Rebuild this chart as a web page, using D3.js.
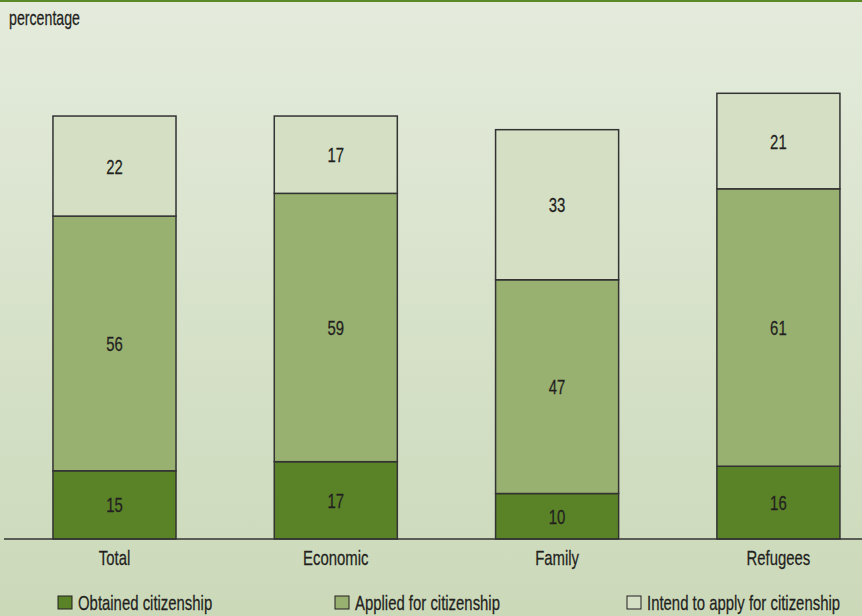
<!DOCTYPE html>
<html>
<head>
<meta charset="utf-8">
<script src="https://cdn.jsdelivr.net/npm/d3@7"></script>
<style>
  html, body { margin: 0; padding: 0; }
  body { width: 862px; height: 616px; overflow: hidden; }
  text { font-family: "Liberation Sans", Arial, sans-serif; fill: #231f20; stroke: #231f20; stroke-width: 0.25px; }
</style>
</head>
<body>
<svg id="chart" width="862" height="616"></svg>
<script>
const categories = ["Total", "Economic", "Family", "Refugees"];
const seriesNames = ["Obtained citizenship", "Applied for citizenship", "Intend to apply for citizenship"];
const obtained = [15, 17, 10, 16];
const applied = [56, 59, 47, 61];
const intend = [22, 17, 33, 21];
const seriesColors = ["#5a8227", "#98b070", "#d4dfc4"];
const yLabel = "percentage";

const svg = d3.select("#chart");
const W = 862, H = 616;
const SX = 0.71;   // horizontal condensing to imitate a narrow face

function ctext(sel, x, yy, str, size, anchor) {
  return sel.append("text")
    .attr("transform", `translate(${x},${yy}) scale(${SX},1)`)
    .attr("text-anchor", anchor || "start")
    .attr("font-size", size)
    .text(str);
}

const defs = svg.append("defs");
const grad = defs.append("linearGradient").attr("id", "bg").attr("x1", 0).attr("y1", 0).attr("x2", 0).attr("y2", 1);
grad.append("stop").attr("offset", "0%").attr("stop-color", "#e4ebdc");
grad.append("stop").attr("offset", "100%").attr("stop-color", "#cbd9b9");
svg.append("rect").attr("width", W).attr("height", H).attr("fill", "url(#bg)");
svg.append("rect").attr("x", 0).attr("y", 0).attr("width", W).attr("height", 2).attr("fill", "#5a8a28");

const data = categories.map((c, i) => ({ cat: c, obtained: obtained[i], applied: applied[i], intend: intend[i] }));
const keys = ["obtained", "applied", "intend"];
const stack = d3.stack().keys(keys)(data);

const x = d3.scaleBand().domain(categories).range([8.7, 884.2]).paddingInner(0.444).paddingOuter(0.2);
const y = d3.scaleLinear().domain([0, 100]).range([539, 539 - 454.8]);

const g = svg.append("g");
stack.forEach((layer, li) => {
  const lg = g.append("g");
  lg.selectAll("rect").data(layer).join("rect")
    .attr("x", d => x(d.data.cat))
    .attr("y", d => y(d[1]))
    .attr("width", x.bandwidth())
    .attr("height", d => y(d[0]) - y(d[1]))
    .attr("fill", seriesColors[li])
    .attr("stroke", "#333333")
    .attr("stroke-width", 1.5);
  layer.forEach(d => {
    ctext(lg, x(d.data.cat) + x.bandwidth() / 2, (y(d[0]) + y(d[1])) / 2 + 7.5, d[1] - d[0], 21, "middle");
  });
});

// x axis
const xAxis = d3.axisBottom(x).tickSize(0).tickPadding(0).tickFormat(() => "");
const ax = svg.append("g").attr("transform", "translate(0,539)").call(xAxis);
ax.select(".domain").remove();
ax.selectAll(".tick").each(function (d) {
  ctext(d3.select(this), 0, 26, d, 21, "middle");
});
svg.append("line").attr("x1", 4).attr("x2", W).attr("y1", 539).attr("y2", 539).attr("stroke", "#333333").attr("stroke-width", 1.5);

ctext(svg, 9, 25, yLabel, 20, "start");

// legend
const legendX = [58, 335, 627];
const leg = svg.append("g");
seriesNames.forEach((name, i) => {
  leg.append("rect").attr("x", legendX[i]).attr("y", 596).attr("width", 14).attr("height", 13)
    .attr("fill", seriesColors[i]).attr("stroke", "#231f20").attr("stroke-width", 1);
  ctext(leg, legendX[i] + 20, 610, name, 21, "start");
});
</script>
</body>
</html>
